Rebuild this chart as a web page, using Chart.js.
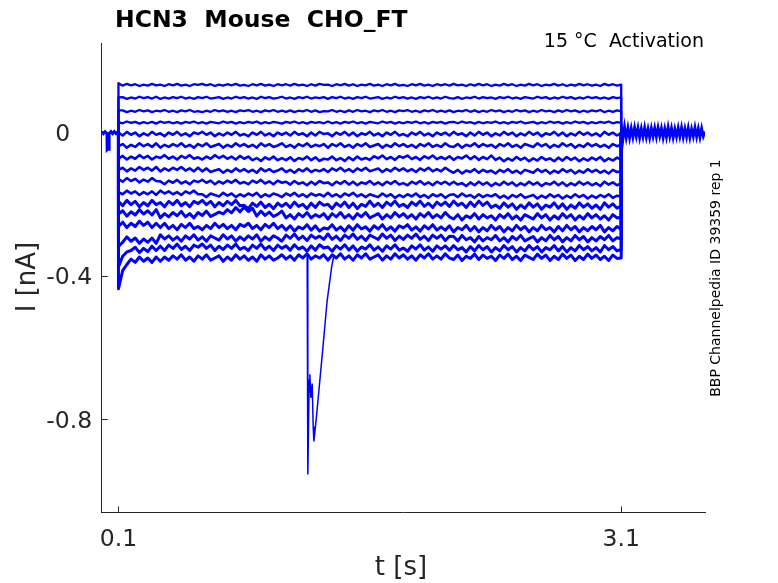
<!DOCTYPE html>
<html>
<head>
<meta charset="utf-8">
<script src="https://cdn.jsdelivr.net/npm/chart.js@4.4.0/dist/chart.umd.min.js"></script>
<style>
  html, body { margin: 0; padding: 0; background: #fff; }
  #wrap { width: 778px; height: 583px; position: relative; }
</style>
</head>
<body>
<div id="wrap"><canvas id="traces"></canvas></div>
<script>
// sample times during the voltage step (s)
var stepTimes = [
  0.100,0.125,0.150,0.175,0.200,0.225,0.250,0.275,0.300,0.325,
  0.350,0.375,0.400,0.425,0.450,0.475,0.500,0.525,0.550,0.575,
  0.600,0.625,0.650,0.675,0.700,0.725,0.750,0.775,0.800,0.825,
  0.850,0.875,0.900,0.925,0.950,0.975,1.000,1.025,1.050,1.075,
  1.100,1.125,1.150,1.175,1.200,1.225,1.250,1.275,1.300,1.325,
  1.350,1.375,1.400,1.425,1.450,1.475,1.500,1.525,1.550,1.575,
  1.600,1.625,1.650,1.675,1.700,1.725,1.750,1.775,1.800,1.825,
  1.850,1.875,1.900,1.925,1.950,1.975,2.000,2.025,2.050,2.075,
  2.100,2.125,2.150,2.175,2.200,2.225,2.250,2.275,2.300,2.325,
  2.350,2.375,2.400,2.425,2.450,2.475,2.500,2.525,2.550,2.575,
  2.600,2.625,2.650,2.675,2.700,2.725,2.750,2.775,2.800,2.825,
  2.850,2.875,2.900,2.925,2.950,2.975,3.000,3.025,3.050,3.075,
  3.100
];

// current (nA), one sweep per voltage step, top to bottom
var trace1 = [
  0.138,0.131,0.136,0.132,0.135,0.130,0.134,0.131,0.136,0.132,
  0.134,0.130,0.135,0.132,0.136,0.131,0.134,0.130,0.135,0.133,
  0.136,0.132,0.135,0.130,0.134,0.131,0.135,0.132,0.136,0.131,
  0.133,0.130,0.135,0.132,0.136,0.131,0.134,0.130,0.135,0.132,
  0.135,0.131,0.136,0.132,0.134,0.130,0.135,0.131,0.136,0.133,
  0.134,0.130,0.135,0.132,0.136,0.131,0.135,0.130,0.134,0.132,
  0.136,0.131,0.134,0.130,0.135,0.132,0.136,0.131,0.133,0.130,
  0.135,0.132,0.136,0.131,0.134,0.130,0.135,0.132,0.135,0.131,
  0.136,0.132,0.134,0.130,0.135,0.131,0.136,0.132,0.135,0.130,
  0.134,0.131,0.136,0.132,0.135,0.130,0.134,0.131,0.136,0.132,
  0.135,0.130,0.134,0.132,0.136,0.131,0.135,0.130,0.134,0.131,
  0.136,0.132,0.135,0.131,0.134,0.130,0.136,0.132,0.135,0.131,
  0.134
];
var trace2 = [
  0.098,0.099,0.094,0.098,0.095,0.100,0.096,0.099,0.095,0.100,
  0.094,0.098,0.095,0.099,0.096,0.100,0.095,0.098,0.094,0.099,
  0.096,0.100,0.095,0.097,0.099,0.094,0.098,0.095,0.100,0.096,
  0.099,0.095,0.098,0.094,0.100,0.096,0.099,0.095,0.097,0.100,
  0.095,0.098,0.094,0.099,0.096,0.100,0.095,0.098,0.096,0.099,
  0.094,0.099,0.096,0.100,0.095,0.098,0.094,0.099,0.096,0.100,
  0.095,0.097,0.099,0.094,0.098,0.095,0.100,0.096,0.099,0.095,
  0.098,0.094,0.099,0.096,0.100,0.095,0.098,0.095,0.100,0.096,
  0.095,0.099,0.094,0.098,0.096,0.100,0.095,0.099,0.096,0.098,
  0.094,0.099,0.096,0.100,0.095,0.098,0.094,0.099,0.097,0.095,
  0.100,0.096,0.099,0.094,0.098,0.095,0.100,0.096,0.099,0.094,
  0.098,0.095,0.100,0.096,0.099,0.095,0.098,0.094,0.099,0.096,
  0.098
];
var trace3 = [
  0.062,0.062,0.057,0.061,0.058,0.063,0.059,0.062,0.057,0.061,
  0.059,0.063,0.058,0.061,0.057,0.062,0.059,0.063,0.058,0.060,
  0.057,0.061,0.058,0.063,0.059,0.062,0.058,0.061,0.057,0.062,
  0.060,0.063,0.058,0.061,0.057,0.062,0.059,0.063,0.058,0.061,
  0.058,0.062,0.057,0.061,0.059,0.063,0.058,0.062,0.057,0.060,
  0.059,0.063,0.058,0.061,0.057,0.062,0.058,0.063,0.059,0.061,
  0.057,0.062,0.059,0.063,0.058,0.061,0.057,0.062,0.060,0.063,
  0.058,0.061,0.057,0.062,0.059,0.063,0.058,0.061,0.058,0.062,
  0.057,0.061,0.059,0.063,0.058,0.062,0.057,0.061,0.058,0.063,
  0.059,0.062,0.057,0.061,0.058,0.063,0.059,0.062,0.057,0.061,
  0.058,0.063,0.059,0.061,0.057,0.062,0.058,0.063,0.059,0.062,
  0.057,0.061,0.058,0.062,0.059,0.063,0.057,0.061,0.058,0.062,
  0.059
];
var trace4 = [
  0.029,0.026,0.031,0.027,0.030,0.025,0.029,0.026,0.030,0.025,
  0.031,0.027,0.030,0.026,0.029,0.025,0.030,0.027,0.031,0.026,
  0.029,0.025,0.030,0.028,0.026,0.031,0.027,0.030,0.025,0.029,
  0.026,0.030,0.027,0.031,0.025,0.029,0.026,0.030,0.028,0.025,
  0.030,0.027,0.031,0.026,0.029,0.025,0.030,0.027,0.029,0.026,
  0.031,0.026,0.029,0.025,0.030,0.027,0.031,0.026,0.029,0.025,
  0.030,0.028,0.026,0.031,0.027,0.030,0.025,0.029,0.026,0.030,
  0.027,0.031,0.026,0.029,0.025,0.030,0.027,0.030,0.025,0.029,
  0.030,0.026,0.031,0.027,0.029,0.025,0.030,0.026,0.029,0.027,
  0.031,0.026,0.029,0.025,0.030,0.027,0.031,0.026,0.028,0.030,
  0.025,0.029,0.026,0.031,0.027,0.030,0.025,0.029,0.026,0.031,
  0.027,0.030,0.025,0.029,0.026,0.030,0.027,0.031,0.026,0.029,
  0.027
];
var trace5 = [
  0.000,-0.008,0.002,-0.006,0.000,-0.010,-0.002,-0.008,0.002,-0.006,
  -0.002,-0.010,0.000,-0.006,0.002,-0.008,-0.002,-0.010,0.000,-0.004,
  0.002,-0.006,0.000,-0.010,-0.002,-0.008,0.000,-0.006,0.002,-0.008,
  -0.004,-0.010,0.000,-0.006,0.002,-0.008,-0.002,-0.010,0.000,-0.006,
  0.000,-0.008,0.002,-0.006,-0.002,-0.010,0.000,-0.008,0.002,-0.004,
  -0.002,-0.010,0.000,-0.006,0.002,-0.008,0.000,-0.010,-0.002,-0.006,
  0.002,-0.008,-0.002,-0.010,0.000,-0.006,0.002,-0.008,-0.004,-0.010,
  0.000,-0.006,0.002,-0.008,-0.002,-0.010,0.000,-0.006,0.000,-0.008,
  0.002,-0.006,-0.002,-0.010,0.000,-0.008,0.002,-0.006,0.000,-0.010,
  -0.002,-0.008,0.002,-0.006,0.000,-0.010,-0.002,-0.008,0.002,-0.006,
  0.000,-0.010,-0.002,-0.006,0.002,-0.008,0.000,-0.010,-0.002,-0.008,
  0.002,-0.006,0.000,-0.008,-0.002,-0.010,0.002,-0.006,0.000,-0.008,
  -0.002
];
var trace6 = [
  -0.038,-0.032,-0.042,-0.034,-0.040,-0.030,-0.038,-0.032,-0.040,-0.030,
  -0.042,-0.034,-0.040,-0.032,-0.038,-0.030,-0.040,-0.034,-0.042,-0.032,
  -0.038,-0.030,-0.040,-0.036,-0.032,-0.042,-0.034,-0.040,-0.030,-0.038,
  -0.032,-0.040,-0.034,-0.042,-0.030,-0.038,-0.032,-0.040,-0.036,-0.030,
  -0.040,-0.034,-0.042,-0.032,-0.038,-0.030,-0.040,-0.034,-0.038,-0.032,
  -0.042,-0.032,-0.038,-0.030,-0.040,-0.034,-0.042,-0.032,-0.038,-0.030,
  -0.040,-0.036,-0.032,-0.042,-0.034,-0.040,-0.030,-0.038,-0.032,-0.040,
  -0.034,-0.042,-0.032,-0.038,-0.030,-0.040,-0.034,-0.040,-0.030,-0.038,
  -0.040,-0.032,-0.042,-0.034,-0.038,-0.030,-0.040,-0.032,-0.038,-0.034,
  -0.042,-0.032,-0.038,-0.030,-0.040,-0.034,-0.042,-0.032,-0.036,-0.040,
  -0.030,-0.038,-0.032,-0.042,-0.034,-0.040,-0.030,-0.038,-0.032,-0.042,
  -0.034,-0.040,-0.030,-0.038,-0.032,-0.040,-0.034,-0.042,-0.032,-0.038,
  -0.034
];
var trace7 = [
  -0.073,-0.065,-0.075,-0.067,-0.073,-0.063,-0.071,-0.065,-0.075,-0.067,
  -0.071,-0.063,-0.073,-0.067,-0.075,-0.065,-0.071,-0.063,-0.073,-0.069,
  -0.075,-0.067,-0.073,-0.063,-0.071,-0.065,-0.073,-0.067,-0.075,-0.065,
  -0.073,-0.067,-0.077,-0.071,-0.079,-0.069,-0.075,-0.067,-0.077,-0.071,
  -0.077,-0.069,-0.079,-0.071,-0.075,-0.067,-0.077,-0.069,-0.079,-0.073,
  -0.075,-0.067,-0.077,-0.071,-0.079,-0.069,-0.077,-0.067,-0.075,-0.071,
  -0.076,-0.066,-0.072,-0.064,-0.074,-0.068,-0.076,-0.066,-0.070,-0.064,
  -0.074,-0.068,-0.076,-0.066,-0.072,-0.064,-0.074,-0.068,-0.074,-0.066,
  -0.076,-0.068,-0.072,-0.064,-0.074,-0.066,-0.076,-0.068,-0.074,-0.064,
  -0.076,-0.070,-0.080,-0.072,-0.078,-0.068,-0.076,-0.070,-0.080,-0.072,
  -0.078,-0.068,-0.076,-0.072,-0.080,-0.070,-0.078,-0.068,-0.076,-0.070,
  -0.080,-0.072,-0.078,-0.070,-0.076,-0.068,-0.080,-0.072,-0.078,-0.070,
  -0.076
];
var trace8 = [
  -0.104,-0.098,-0.108,-0.100,-0.106,-0.096,-0.104,-0.098,-0.106,-0.096,
  -0.108,-0.100,-0.106,-0.098,-0.104,-0.096,-0.106,-0.100,-0.108,-0.098,
  -0.108,-0.100,-0.110,-0.106,-0.102,-0.112,-0.104,-0.110,-0.100,-0.108,
  -0.102,-0.110,-0.104,-0.112,-0.100,-0.108,-0.102,-0.110,-0.106,-0.100,
  -0.110,-0.104,-0.112,-0.102,-0.108,-0.100,-0.110,-0.104,-0.108,-0.102,
  -0.110,-0.100,-0.106,-0.098,-0.108,-0.102,-0.110,-0.100,-0.106,-0.098,
  -0.108,-0.104,-0.100,-0.110,-0.102,-0.108,-0.098,-0.106,-0.100,-0.108,
  -0.102,-0.110,-0.100,-0.106,-0.098,-0.108,-0.102,-0.108,-0.098,-0.106,
  -0.112,-0.104,-0.114,-0.106,-0.110,-0.102,-0.112,-0.104,-0.110,-0.106,
  -0.114,-0.104,-0.110,-0.102,-0.112,-0.106,-0.114,-0.104,-0.108,-0.112,
  -0.102,-0.110,-0.104,-0.114,-0.106,-0.112,-0.102,-0.110,-0.104,-0.114,
  -0.106,-0.112,-0.102,-0.110,-0.104,-0.112,-0.106,-0.114,-0.104,-0.110,
  -0.108
];
var trace9 = [
  -0.129,-0.137,-0.127,-0.135,-0.129,-0.139,-0.131,-0.137,-0.127,-0.135,
  -0.136,-0.144,-0.134,-0.140,-0.132,-0.142,-0.136,-0.144,-0.134,-0.138,
  -0.132,-0.140,-0.134,-0.144,-0.136,-0.142,-0.134,-0.140,-0.132,-0.142,
  -0.138,-0.144,-0.134,-0.140,-0.132,-0.142,-0.136,-0.144,-0.134,-0.140,
  -0.137,-0.145,-0.135,-0.143,-0.139,-0.147,-0.137,-0.145,-0.135,-0.141,
  -0.139,-0.147,-0.137,-0.143,-0.135,-0.145,-0.137,-0.147,-0.139,-0.143,
  -0.135,-0.145,-0.139,-0.147,-0.137,-0.143,-0.135,-0.145,-0.141,-0.147,
  -0.137,-0.143,-0.135,-0.145,-0.139,-0.147,-0.137,-0.143,-0.137,-0.145,
  -0.137,-0.145,-0.141,-0.149,-0.139,-0.147,-0.137,-0.145,-0.139,-0.149,
  -0.141,-0.147,-0.137,-0.145,-0.139,-0.149,-0.141,-0.147,-0.137,-0.145,
  -0.139,-0.149,-0.141,-0.145,-0.137,-0.147,-0.139,-0.149,-0.141,-0.147,
  -0.137,-0.145,-0.139,-0.147,-0.141,-0.149,-0.137,-0.145,-0.139,-0.147,
  -0.141
];
var trace10 = [
  -0.166,-0.172,-0.162,-0.170,-0.164,-0.174,-0.166,-0.172,-0.164,-0.174,
  -0.162,-0.170,-0.164,-0.172,-0.166,-0.174,-0.164,-0.170,-0.162,-0.172,
  -0.172,-0.180,-0.170,-0.174,-0.178,-0.168,-0.176,-0.170,-0.180,-0.172,
  -0.178,-0.170,-0.176,-0.168,-0.180,-0.172,-0.178,-0.170,-0.174,-0.180,
  -0.170,-0.176,-0.168,-0.178,-0.172,-0.180,-0.170,-0.176,-0.172,-0.178,
  -0.168,-0.178,-0.172,-0.180,-0.170,-0.176,-0.168,-0.178,-0.172,-0.180,
  -0.172,-0.176,-0.180,-0.170,-0.178,-0.172,-0.182,-0.174,-0.180,-0.172,
  -0.178,-0.170,-0.180,-0.174,-0.182,-0.172,-0.178,-0.172,-0.182,-0.174,
  -0.172,-0.180,-0.170,-0.178,-0.174,-0.182,-0.172,-0.180,-0.174,-0.178,
  -0.172,-0.182,-0.176,-0.184,-0.174,-0.180,-0.172,-0.182,-0.178,-0.174,
  -0.184,-0.176,-0.182,-0.172,-0.180,-0.174,-0.184,-0.176,-0.182,-0.172,
  -0.180,-0.174,-0.184,-0.176,-0.182,-0.174,-0.180,-0.172,-0.182,-0.176,
  -0.178
];
var trace11 = [
  -0.192,-0.204,-0.189,-0.201,-0.192,-0.207,-0.195,-0.204,-0.189,-0.201,
  -0.195,-0.207,-0.192,-0.201,-0.189,-0.204,-0.195,-0.207,-0.192,-0.198,
  -0.189,-0.201,-0.192,-0.207,-0.195,-0.204,-0.192,-0.201,-0.189,-0.204,
  -0.203,-0.212,-0.197,-0.206,-0.194,-0.209,-0.200,-0.212,-0.197,-0.206,
  -0.197,-0.209,-0.194,-0.206,-0.200,-0.212,-0.197,-0.209,-0.194,-0.203,
  -0.200,-0.212,-0.197,-0.206,-0.194,-0.209,-0.197,-0.212,-0.200,-0.206,
  -0.191,-0.206,-0.197,-0.209,-0.194,-0.203,-0.191,-0.206,-0.200,-0.209,
  -0.194,-0.203,-0.191,-0.206,-0.197,-0.209,-0.194,-0.203,-0.194,-0.206,
  -0.191,-0.203,-0.197,-0.209,-0.194,-0.206,-0.191,-0.203,-0.194,-0.209,
  -0.202,-0.211,-0.196,-0.208,-0.199,-0.214,-0.202,-0.211,-0.196,-0.208,
  -0.199,-0.214,-0.202,-0.208,-0.196,-0.211,-0.199,-0.214,-0.202,-0.211,
  -0.196,-0.208,-0.199,-0.211,-0.202,-0.214,-0.196,-0.208,-0.199,-0.211,
  -0.204
];
var trace12 = [
  -0.227,-0.218,-0.233,-0.221,-0.230,-0.215,-0.227,-0.218,-0.230,-0.215,
  -0.238,-0.226,-0.235,-0.223,-0.232,-0.220,-0.235,-0.226,-0.238,-0.223,
  -0.231,-0.219,-0.234,-0.228,-0.222,-0.227,-0.215,-0.224,-0.209,-0.221,
  -0.208,-0.220,-0.211,-0.233,-0.219,-0.231,-0.222,-0.234,-0.228,-0.219,
  -0.238,-0.229,-0.241,-0.226,-0.235,-0.223,-0.238,-0.229,-0.235,-0.226,
  -0.241,-0.226,-0.235,-0.223,-0.238,-0.229,-0.241,-0.226,-0.235,-0.223,
  -0.238,-0.232,-0.226,-0.241,-0.229,-0.238,-0.223,-0.235,-0.226,-0.238,
  -0.229,-0.241,-0.226,-0.235,-0.223,-0.238,-0.229,-0.238,-0.223,-0.235,
  -0.241,-0.229,-0.244,-0.232,-0.238,-0.226,-0.241,-0.229,-0.238,-0.232,
  -0.244,-0.229,-0.238,-0.226,-0.241,-0.232,-0.244,-0.229,-0.235,-0.241,
  -0.226,-0.238,-0.229,-0.244,-0.232,-0.241,-0.226,-0.238,-0.229,-0.244,
  -0.232,-0.241,-0.226,-0.238,-0.229,-0.241,-0.232,-0.244,-0.229,-0.238,
  -0.236
];
var trace13 = [
  -0.262,-0.250,-0.265,-0.253,-0.262,-0.247,-0.259,-0.250,-0.265,-0.253,
  -0.265,-0.253,-0.268,-0.259,-0.271,-0.256,-0.265,-0.253,-0.268,-0.262,
  -0.271,-0.259,-0.268,-0.253,-0.265,-0.256,-0.268,-0.259,-0.271,-0.256,
  -0.262,-0.253,-0.268,-0.259,-0.271,-0.256,-0.265,-0.253,-0.268,-0.259,
  -0.272,-0.260,-0.275,-0.263,-0.269,-0.257,-0.272,-0.260,-0.275,-0.266,
  -0.269,-0.257,-0.272,-0.263,-0.275,-0.260,-0.272,-0.257,-0.269,-0.263,
  -0.275,-0.260,-0.269,-0.257,-0.272,-0.263,-0.275,-0.260,-0.266,-0.257,
  -0.272,-0.263,-0.275,-0.260,-0.269,-0.257,-0.272,-0.263,-0.272,-0.260,
  -0.277,-0.265,-0.271,-0.259,-0.274,-0.262,-0.277,-0.265,-0.274,-0.259,
  -0.271,-0.262,-0.277,-0.265,-0.274,-0.259,-0.271,-0.262,-0.277,-0.265,
  -0.274,-0.259,-0.271,-0.265,-0.277,-0.262,-0.274,-0.259,-0.271,-0.262,
  -0.277,-0.265,-0.274,-0.262,-0.271,-0.259,-0.277,-0.265,-0.274,-0.262,
  -0.270
];
var trace14 = [
  -0.318,-0.306,-0.291,-0.303,-0.294,-0.309,-0.297,-0.306,-0.294,-0.309,
  -0.285,-0.297,-0.288,-0.300,-0.291,-0.303,-0.288,-0.297,-0.285,-0.300,
  -0.291,-0.303,-0.288,-0.294,-0.300,-0.285,-0.297,-0.288,-0.303,-0.291,
  -0.300,-0.288,-0.297,-0.285,-0.303,-0.291,-0.300,-0.288,-0.294,-0.303,
  -0.286,-0.295,-0.283,-0.298,-0.289,-0.301,-0.286,-0.295,-0.289,-0.298,
  -0.283,-0.298,-0.289,-0.301,-0.286,-0.295,-0.283,-0.298,-0.289,-0.301,
  -0.286,-0.292,-0.298,-0.283,-0.295,-0.286,-0.301,-0.289,-0.298,-0.286,
  -0.295,-0.283,-0.298,-0.289,-0.301,-0.286,-0.295,-0.286,-0.301,-0.289,
  -0.290,-0.302,-0.287,-0.299,-0.293,-0.305,-0.290,-0.302,-0.293,-0.299,
  -0.287,-0.302,-0.293,-0.305,-0.290,-0.299,-0.287,-0.302,-0.296,-0.290,
  -0.305,-0.293,-0.302,-0.287,-0.299,-0.290,-0.305,-0.293,-0.302,-0.287,
  -0.299,-0.290,-0.305,-0.293,-0.302,-0.290,-0.299,-0.287,-0.302,-0.293,
  -0.297
];
var trace15 = [
  -0.375,-0.345,-0.333,-0.329,-0.320,-0.335,-0.323,-0.332,-0.317,-0.329,
  -0.317,-0.329,-0.314,-0.323,-0.311,-0.326,-0.317,-0.329,-0.314,-0.320,
  -0.311,-0.323,-0.314,-0.329,-0.317,-0.326,-0.314,-0.323,-0.311,-0.326,
  -0.320,-0.329,-0.314,-0.323,-0.311,-0.326,-0.317,-0.329,-0.314,-0.323,
  -0.316,-0.328,-0.313,-0.325,-0.319,-0.331,-0.316,-0.328,-0.313,-0.322,
  -0.319,-0.331,-0.316,-0.325,-0.313,-0.328,-0.316,-0.331,-0.319,-0.325,
  -0.313,-0.328,-0.319,-0.331,-0.316,-0.325,-0.313,-0.328,-0.322,-0.331,
  -0.316,-0.325,-0.313,-0.328,-0.319,-0.331,-0.316,-0.325,-0.316,-0.328,
  -0.315,-0.327,-0.321,-0.333,-0.318,-0.330,-0.315,-0.327,-0.318,-0.333,
  -0.321,-0.330,-0.315,-0.327,-0.318,-0.333,-0.321,-0.330,-0.315,-0.327,
  -0.318,-0.333,-0.321,-0.327,-0.315,-0.330,-0.318,-0.333,-0.321,-0.330,
  -0.315,-0.327,-0.318,-0.330,-0.321,-0.333,-0.315,-0.327,-0.318,-0.330,
  -0.326
];
var trace16 = [
  -0.436,-0.385,-0.368,-0.353,-0.362,-0.347,-0.359,-0.350,-0.362,-0.347,
  -0.359,-0.347,-0.356,-0.344,-0.353,-0.341,-0.356,-0.347,-0.359,-0.344,
  -0.353,-0.341,-0.356,-0.350,-0.344,-0.359,-0.347,-0.356,-0.341,-0.353,
  -0.344,-0.356,-0.347,-0.359,-0.341,-0.353,-0.344,-0.356,-0.350,-0.341,
  -0.353,-0.344,-0.356,-0.341,-0.350,-0.338,-0.353,-0.344,-0.350,-0.341,
  -0.356,-0.341,-0.350,-0.338,-0.353,-0.344,-0.356,-0.341,-0.350,-0.338,
  -0.353,-0.347,-0.341,-0.356,-0.344,-0.353,-0.338,-0.350,-0.341,-0.353,
  -0.344,-0.356,-0.341,-0.350,-0.338,-0.353,-0.344,-0.353,-0.338,-0.350,
  -0.354,-0.342,-0.357,-0.345,-0.351,-0.339,-0.354,-0.342,-0.351,-0.345,
  -0.357,-0.342,-0.351,-0.339,-0.354,-0.345,-0.357,-0.342,-0.348,-0.354,
  -0.339,-0.351,-0.342,-0.357,-0.345,-0.354,-0.339,-0.351,-0.342,-0.357,
  -0.345,-0.354,-0.339,-0.351,-0.342,-0.354,-0.345,-0.357,-0.342,-0.351,
  -0.350
];

// big transient on the bottom sweep around 1.23 s
var artifactTimes = [1.226,1.230,1.238,1.242,1.248,1.256,1.262,1.266,1.280,1.300,1.320,1.345,1.373,1.385];
var artifactVals  = [-0.340,-0.954,-0.690,-0.674,-0.740,-0.700,-0.820,-0.862,-0.800,-0.700,-0.600,-0.470,-0.372,-0.345];

// holding current before the step
var preTimes = [0,0.010,0.020,0.031,0.032,0.038,0.044,0.045,0.055,0.065,0.075,0.085,0.095,0.100];
var preVals  = [0.003,-0.003,0.003,-0.002,-0.048,-0.045,-0.047,-0.002,0.003,-0.003,0.003,-0.003,0.002,0.000];

// tail after the step
var postTimes = [
  3.10,3.11,3.12,3.13,3.14,3.15,3.16,3.17,3.18,3.19,
  3.20,3.21,3.22,3.23,3.24,3.25,3.26,3.27,3.28,3.29,
  3.30,3.31,3.32,3.33,3.34,3.35,3.36,3.37,3.38,3.39,
  3.40,3.41,3.42,3.43,3.44,3.45,3.46,3.47,3.48,3.49,
  3.50,3.51,3.52,3.53,3.54,3.55,3.56,3.57,3.58,3.59,
  3.60
];
var postVals = [
  0.018,-0.020,0.016,-0.014,0.013,-0.015,0.012,-0.013,0.014,-0.011,
  0.013,-0.014,0.011,-0.012,0.014,-0.013,0.010,-0.014,0.012,-0.011,
  0.013,-0.012,0.014,-0.010,0.012,-0.014,0.011,-0.013,0.015,-0.011,
  0.012,-0.014,0.010,-0.012,0.013,-0.011,0.014,-0.013,0.011,-0.012,
  0.013,-0.014,0.010,-0.011,0.014,-0.012,0.011,-0.013,0.012,-0.010,
  0.003
];

var xTickVals = [0.1, 3.1];
var xTickLabels = ['0.1', '3.1'];
var yTickVals = [0, -0.4, -0.8];
var yTickLabels = ['0', '-0.4', '-0.8'];

var traces = [trace1,trace2,trace3,trace4,trace5,trace6,trace7,trace8,
              trace9,trace10,trace11,trace12,trace13,trace14,trace15,trace16];

function zip(ts, vs) {
  var out = [];
  for (let i = 0; i < vs.length && i < ts.length; i++) {
    out.push({x: ts[i], y: vs[i]});
  }
  return out;
}

var blue = '#0000ff';
var datasets = [];
for (let k = 0; k < traces.length; k++) {
  let pts = zip(stepTimes, traces[k]);
  pts.unshift({x: stepTimes[0], y: 0});
  pts.push({x: stepTimes[stepTimes.length - 1], y: 0});
  datasets.push({
    data: pts,
    borderColor: blue,
    borderWidth: k < 4 ? 2.3 : (k < 10 ? 2.6 : 3),
    borderJoinStyle: 'round',
    pointRadius: 0,
    tension: 0
  });
}
datasets.push({ data: zip(artifactTimes, artifactVals), borderColor: blue, borderWidth: 1.5, pointRadius: 0 });
datasets.push({ data: zip(preTimes, preVals), borderColor: blue, borderWidth: 2.8, pointRadius: 0 });
datasets.push({ data: zip(postTimes, postVals), borderColor: blue, borderWidth: 2.8, pointRadius: 0 });

var axisColor = '#262626';
var fontName = '"DejaVu Sans", sans-serif';

// inward ticks, tick labels, titles and side note (matlab look)
const decorations = {
  id: 'decorations',
  afterDraw(chart) {
    const ctx = chart.ctx;
    const xs = chart.scales.x, ys = chart.scales.y;
    const area = chart.chartArea;
    ctx.save();
    ctx.strokeStyle = axisColor;
    ctx.lineWidth = 1;
    ctx.beginPath();
    for (let v of yTickVals) {
      let py = Math.round(ys.getPixelForValue(v)) + 0.5;
      ctx.moveTo(area.left, py);
      ctx.lineTo(area.left + 6, py);
    }
    for (let v of xTickVals) {
      let px = Math.round(xs.getPixelForValue(v)) + 0.5;
      ctx.moveTo(px, area.bottom);
      ctx.lineTo(px, area.bottom - 6);
    }
    ctx.stroke();

    // tick labels
    ctx.fillStyle = axisColor;
    ctx.font = '23.5px ' + fontName;
    ctx.textBaseline = 'alphabetic';
    for (let i = 0; i < yTickVals.length; i++) {
      let py = ys.getPixelForValue(yTickVals[i]);
      if (yTickLabels[i] === '0') {
        ctx.textAlign = 'center';
        ctx.fillText(yTickLabels[i], area.left - 39, py + 8.5);
      } else {
        ctx.textAlign = 'right';
        ctx.fillText(yTickLabels[i], area.left - 9.5, py + 8.5);
      }
    }
    ctx.textAlign = 'center';
    for (let i = 0; i < xTickVals.length; i++) {
      ctx.fillText(xTickLabels[i], xs.getPixelForValue(xTickVals[i]), area.bottom + 33.5);
    }

    // axis titles
    ctx.font = '26px ' + fontName;
    ctx.textAlign = 'center';
    ctx.fillText('t [s]', 401, 575);
    ctx.save();
    ctx.translate(28.5, 277);
    ctx.rotate(-Math.PI / 2);
    ctx.textBaseline = 'middle';
    ctx.fillText('I [nA]', 0, 0);
    ctx.restore();

    ctx.fillStyle = '#000';
    ctx.font = 'bold 23.5px ' + fontName;
    ctx.textAlign = 'left';
    ctx.textBaseline = 'alphabetic';
    ctx.fillText('HCN3  Mouse  CHO_FT', 115, 27);

    ctx.font = '19px ' + fontName;
    ctx.textAlign = 'right';
    ctx.fillText('15 \u00B0C  Activation', 704, 47);

    ctx.save();
    ctx.font = '14px ' + fontName;
    ctx.translate(716, 278);
    ctx.rotate(-Math.PI / 2);
    ctx.textAlign = 'center';
    ctx.textBaseline = 'middle';
    ctx.fillText('BBP Channelpedia ID 39359 rep 1', 0, 0);
    ctx.restore();
    ctx.restore();
  }
};

new Chart(document.getElementById('traces'), {
  type: 'line',
  data: { datasets: datasets },
  options: {
    responsive: true,
    maintainAspectRatio: false,
    animation: false,
    layout: { padding: { top: 43, right: 73, left: 0, bottom: 0 } },
    plugins: { legend: { display: false }, tooltip: { enabled: false }, title: { display: false } },
    scales: {
      x: {
        type: 'linear',
        min: 0,
        max: 3.6,
        grid: { display: false },
        border: { display: true, color: axisColor, width: 1 },
        ticks: { display: false },
        afterFit: function(scale) { scale.height = 70.5; },
        afterBuildTicks: function(scale) { scale.ticks = xTickVals.map(v => ({ value: v })); }
      },
      y: {
        type: 'linear',
        min: -1.06,
        max: 0.25,
        grid: { display: false },
        border: { display: true, color: axisColor, width: 1 },
        ticks: { display: false },
        afterFit: function(scale) { scale.width = 101.7; },
        afterBuildTicks: function(scale) { scale.ticks = yTickVals.map(v => ({ value: v })); }
      }
    }
  },
  plugins: [decorations]
});
</script>
</body>
</html>
